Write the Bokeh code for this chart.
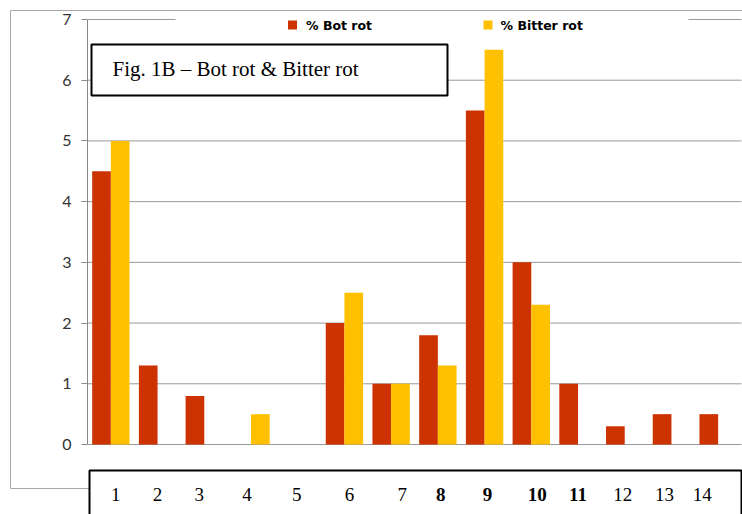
from bokeh.plotting import figure
from bokeh.models import ColumnDataSource, Range1d, LinearAxis, FixedTicker
from bokeh.transform import dodge
from bokeh.core.properties import value
from bokeh.embed import file_html
from bokeh.resources import INLINE

# ---------------- data ----------------
categories = list(range(1, 15))
cat_labels = ["1", "2", "3", "4", "5", "6", "7", "8", "9", "10", "11", "12", "13", "14"]
bold_labels = ["8", "9", "10", "11"]
bot_rot = [4.5, 1.3, 0.8, 0.0, 0.0, 2.0, 1.0, 1.8, 5.5, 3.0, 1.0, 0.3, 0.5, 0.5]
bitter_rot = [5.0, 0.0, 0.0, 0.5, 0.0, 2.5, 1.0, 1.3, 6.5, 2.3, 0.0, 0.0, 0.0, 0.0]
series_names = ["% Bot rot", "% Bitter rot"]
y_ticks = [0, 1, 2, 3, 4, 5, 6, 7]
title_text = "Fig. 1B \u2013 Bot rot & Bitter rot"

# ---------------- layout / style ----------------
W, H = 742, 514
PLOT_L, PLOT_R, PLOT_T, PLOT_B = 87, 741, 19, 444
UX = (PLOT_R - PLOT_L) / len(categories)
UY = (PLOT_B - PLOT_T) / y_ticks[-1]
RED, YELLOW = "#CC3300", "#FFC000"
label_nudge_px = [5, 0, -5, -4, -1, 5, 11, 3, 3, 6, 0, -2, -7, -16]


def dx(px):
    return 0.5 + (px - PLOT_L) / UX


def dy(py):
    return (PLOT_B - py) / UY


p = figure(width=W, height=H, x_range=Range1d(dx(0), dx(W)), y_range=Range1d(dy(H), dy(0)),
           output_backend="svg", toolbar_location=None, x_axis_type=None, y_axis_type=None,
           title=None, min_border=0, outline_line_color=None)
p.background_fill_color = "white"
p.border_fill_color = "white"

# outer chart border
p.quad(left=[dx(10)], right=[dx(W + 20)], top=[dy(10)], bottom=[dy(488)],
       fill_color=None, line_color="#a8a8a8", line_width=1)

# gridlines
n = len(y_ticks)
p.segment(x0=[dx(PLOT_L)] * n, x1=[dx(PLOT_R)] * n, y0=y_ticks, y1=y_ticks,
          line_color="#999999", line_width=1)

# legend background (covers top gridline)
p.quad(left=[dx(175)], right=[dx(688)], top=[dy(13)], bottom=[dy(36)],
       fill_color="white", line_color=None)

# bars
src = ColumnDataSource(dict(cat=categories, bot=bot_rot, bitter=bitter_rot))
p.vbar(x=dodge("cat", -0.2), top="bot", width=0.4, source=src, fill_color=RED, line_color=None)
p.vbar(x=dodge("cat", 0.2), top="bitter", width=0.4, source=src, fill_color=YELLOW, line_color=None)

# legend
p.scatter(x=[dx(292), dx(487.5)], y=[dy(24.5)] * 2, marker="square", size=9,
          fill_color=[RED, YELLOW], line_color=None)
p.text(x=[dx(305.5), dx(500)], y=[dy(24.5)] * 2, text=series_names,
       text_font=value("DejaVu Sans"), text_font_style="bold", text_font_size="12.5px",
       text_color="black", text_baseline="middle", text_align="left")

# title box
p.quad(left=[dx(91)], right=[dx(447)], top=[dy(44)], bottom=[dy(95)],
       fill_color="white", line_color="black", line_width=2)
p.text(x=[dx(112)], y=[dy(68)], text=[title_text], text_font=value("Liberation Serif"),
       text_font_size="21px", text_color="black", text_baseline="middle", text_align="left")

# bottom category-label box
p.quad(left=[dx(89)], right=[dx(741)], top=[dy(470)], bottom=[dy(H + 20)],
       fill_color="white", line_color="black", line_width=2)
for bold in (False, True):
    idx = [i for i, l in enumerate(cat_labels) if (l in bold_labels) == bold]
    p.text(x=[categories[i] for i in idx], y=[dy(494)] * len(idx),
           text=[cat_labels[i] for i in idx], x_offset=[label_nudge_px[i] for i in idx],
           text_font=value("Liberation Serif"), text_font_size="19px",
           text_font_style="bold" if bold else "normal",
           text_color="black", text_baseline="middle", text_align="center")

# y axis
yaxis = LinearAxis(ticker=FixedTicker(ticks=y_ticks), fixed_location=0.5, bounds=(0, 7),
                   axis_line_color="#888888", major_tick_line_color="#888888",
                   major_tick_out=6, major_tick_in=0, minor_tick_line_color=None,
                   major_label_standoff=10, major_label_text_font="Lato",
                   major_label_text_font_size="16px", major_label_text_color="#333333")
p.add_layout(yaxis, "left")

open("out.html", "w").write(file_html(p, INLINE))
